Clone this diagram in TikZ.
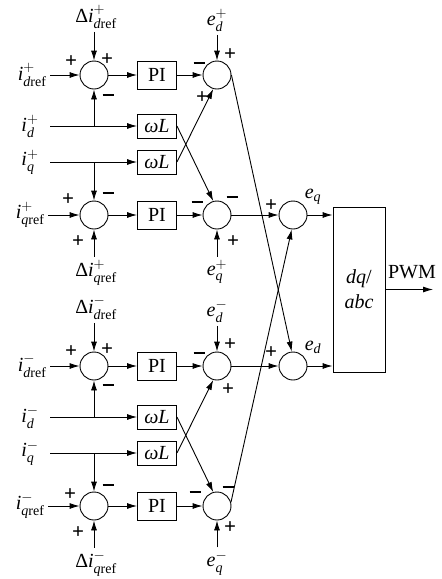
\documentclass[tikz,border=0pt]{standalone}
\usepackage{amsmath}
\usepackage{fontspec}
\setmainfont{Liberation Serif}
\usetikzlibrary{arrows.meta}
\tikzset{
    sum/.style={draw, circle, minimum size=28pt, inner sep=0pt, line width=0.9pt},
    blk/.style={draw, rectangle, minimum width=39pt, minimum height=24pt, inner sep=0pt, line width=0.9pt},
    arr/.style={-{Latex[length=10pt,width=6pt]}, line width=0.9pt},
    sg/.style={inner sep=0pt, font=\fontsize{21}{22}\selectfont\bfseries}
}
\newcommand{\iv}{\textit{i}}
\newcommand{\ev}{\textit{e}}
\newcommand{\mn}{\rule{11pt}{2.4pt}}
\begin{document}
\begin{tikzpicture}[x=1pt, y=-1pt, font=\fontsize{20}{24}\selectfont]
                \useasboundingbox (0,0) rectangle (442,579);
                % positive sequence
                \node[sum] (s1p) at (94,75) {};
                \node[blk, minimum height=28pt] (pidp) at (157,75) {PI};
                \node[sum] (s2p) at (217,75) {};
                \node[blk] (wldp) at (157,126) {\textit{ωL}};
                \node[blk] (wlqp) at (157,162) {\textit{ωL}};
                \node[sum] (s3p) at (94,215) {};
                \node[blk, minimum height=28pt] (piqp) at (157,215) {PI};
                \node[sum] (s4p) at (217,215) {};
                \node[anchor=east] (idrefp) at (50,75) {$\iv^{+}_{\textit{d}\mathrm{ref}}$};
                \node (idp) at (30,126) {$\iv^{+}_{\textit{d}}$};
                \node (iqp) at (30,162) {$\iv^{+}_{\textit{q}}$};
                \coordinate (idp0) at (50,126);
                \coordinate (iqp0) at (50,162);
                \node[anchor=east] (iqrefp) at (48,215) {$\iv^{+}_{\textit{q}\mathrm{ref}}$};
                \node (didp) at (96,17) {Δ$\iv^{+}_{\textit{d}\mathrm{ref}}$};
                \node (edp) at (217,20) {$\ev^{+}_{\textit{d}}$};
                \node (diqp) at (96,273) {Δ$\iv^{+}_{\textit{q}\mathrm{ref}}$};
                \node (eqp) at (217,272) {$\ev^{+}_{\textit{q}}$};
                \draw[arr] (idrefp.east) -- (s1p.west);
                \draw[arr] (s1p) -- (pidp);
                \draw[arr] (pidp) -- (s2p);
                \draw[arr] (s1p |- didp.south) -- (s1p.north);
                \draw[arr] (edp.south) -- (s2p.north);
                \draw[arr] (idp0) -- (wldp.west);
                \draw[arr] (iqp0) -- (wlqp.west);
                \draw[arr] (s1p |- idp0) -- (s1p.south);
                \draw[arr] (s3p |- iqp0) -- (s3p.north);
                \draw[arr] (wldp.east) -- (s4p.105);
                \draw[arr] (wlqp.east) -- (s2p.255);
                \draw[arr] (iqrefp.east) -- (s3p.west);
                \draw[arr] (s3p) -- (piqp);
                \draw[arr] (piqp) -- (s4p);
                \draw[arr] (s3p |- diqp.north) -- (s3p.south);
                \draw[arr] (eqp.north) -- (s4p.south);
                % negative sequence
                \node[sum] (s1n) at (94,366) {};
                \node[blk, minimum height=28pt] (pidn) at (157,366) {PI};
                \node[sum] (s2n) at (217,366) {};
                \node[blk] (wldn) at (157,417) {\textit{ωL}};
                \node[blk] (wlqn) at (157,453) {\textit{ωL}};
                \node[sum] (s3n) at (94,506) {};
                \node[blk, minimum height=28pt] (piqn) at (157,506) {PI};
                \node[sum] (s4n) at (217,506) {};
                \node[anchor=east] (idrefn) at (50,366) {$\iv^{-}_{\textit{d}\mathrm{ref}}$};
                \node (idn) at (30,417) {$\iv^{-}_{\textit{d}}$};
                \node (iqn) at (30,453) {$\iv^{-}_{\textit{q}}$};
                \coordinate (idn0) at (50,417);
                \coordinate (iqn0) at (50,453);
                \node[anchor=east] (iqrefn) at (48,506) {$\iv^{-}_{\textit{q}\mathrm{ref}}$};
                \node (didn) at (96,308) {Δ$\iv^{-}_{\textit{d}\mathrm{ref}}$};
                \node (edn) at (217,311) {$\ev^{-}_{\textit{d}}$};
                \node (diqn) at (96,564) {Δ$\iv^{-}_{\textit{q}\mathrm{ref}}$};
                \node (eqn) at (217,563) {$\ev^{-}_{\textit{q}}$};
                \draw[arr] (idrefn.east) -- (s1n.west);
                \draw[arr] (s1n) -- (pidn);
                \draw[arr] (pidn) -- (s2n);
                \draw[arr] (s1n |- didn.south) -- (s1n.north);
                \draw[arr] (edn.south) -- (s2n.north);
                \draw[arr] (idn0) -- (wldn.west);
                \draw[arr] (iqn0) -- (wlqn.west);
                \draw[arr] (s1n |- idn0) -- (s1n.south);
                \draw[arr] (s3n |- iqn0) -- (s3n.north);
                \draw[arr] (wldn.east) -- (s4n.105);
                \draw[arr] (wlqn.east) -- (s2n.255);
                \draw[arr] (iqrefn.east) -- (s3n.west);
                \draw[arr] (s3n) -- (piqn);
                \draw[arr] (piqn) -- (s4n);
                \draw[arr] (s3n |- diqn.north) -- (s3n.south);
                \draw[arr] (eqn.north) -- (s4n.south);
                % output stage
                \node[sum] (s5) at (293,215) {};
                \node[sum] (s6) at (293,366) {};
                \node[draw, line width=0.9pt, minimum width=52pt, minimum height=165pt, inner sep=0pt, align=center] (conv) at (359,289.5) {\textit{dq}/\\[1pt]\textit{abc}};
                \node (eq) at (313,197) {$\ev_{\textit{q}}$};
                \node (ed) at (313,347) {$\ev_{\textit{d}}$};
                \node (pwm) at (412,272) {PWM};
                \coordinate (pwm0) at (433,289.5);
                \draw[arr] (s4p) -- (s5);
                \draw[arr] (s2n) -- (s6);
                \draw[arr] (s2p.east) -- (s6.95);
                \draw[arr] (s4n.15) -- (s5.265);
                \draw[arr] (s5) -- (s5 -| conv.west);
                \draw[arr] (s6) -- (s6 -| conv.west);
                \draw[arr] (conv.east) -- (pwm0);
                % signs
                \node[sg] (p1) at (71,62) {+};
                \node[sg] (p2) at (107,60) {+};
                \node[sg] (m1) at (108,95) {\mn};
                \node[sg] (m2) at (199,63) {\mn};
                \node[sg] (p3) at (230,55) {+};
                \node[sg] (p4) at (202,98) {+};
                \node[sg] (p5) at (68,200) {+};
                \node[sg] (m3) at (108,193) {\mn};
                \node[sg] (p6) at (78,242) {+};
                \node[sg] (m4) at (197,202) {\mn};
                \node[sg] (m5) at (232,197) {\mn};
                \node[sg] (p7) at (233,242) {+};
                \node[sg] (p8) at (71,352) {+};
                \node[sg] (p9) at (107,350) {+};
                \node[sg] (m6) at (108,385) {\mn};
                \node[sg] (m7) at (199,353) {\mn};
                \node[sg] (p10) at (230,345) {+};
                \node[sg] (p11) at (228,390) {+};
                \node[sg] (p12) at (70,495) {+};
                \node[sg] (m8) at (108,485) {\mn};
                \node[sg] (p13) at (78,533) {+};
                \node[sg] (m9) at (195,492) {\mn};
                \node[sg] (m10) at (228,487) {\mn};
                \node[sg] (p14) at (230,528) {+};
                \node[sg] (p15) at (271,206) {+};
                \node[sg] (p16) at (271,353) {+};
\end{tikzpicture}
\end{document}
